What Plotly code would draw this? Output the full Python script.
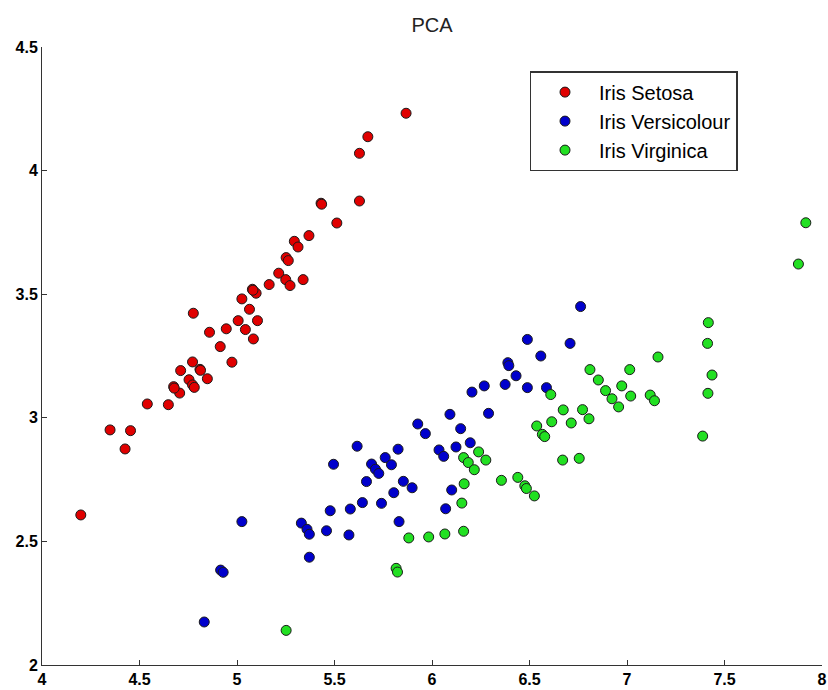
import plotly.graph_objects as go

# Iris Setosa
setosa_x = [5.867, 5.671, 5.628, 5.431, 5.434, 5.628, 5.512, 5.369, 5.294, 5.313,
            5.252, 5.263, 5.214, 5.250, 5.339, 5.272, 5.165, 5.079, 5.098, 5.025,
            5.064, 5.105, 5.006, 4.776, 4.859, 4.945, 5.043, 5.084, 4.914, 4.974,
            4.772, 4.711, 4.810, 4.754, 4.848, 4.772, 4.781, 4.675, 4.706, 4.540,
            4.648, 4.349, 4.454, 4.426, 4.199, 5.082, 4.813, 4.678]
setosa_y = [4.232, 4.137, 4.070, 3.868, 3.864, 3.877, 3.788, 3.737, 3.714, 3.691,
            3.648, 3.636, 3.585, 3.559, 3.559, 3.535, 3.539, 3.520, 3.504, 3.481,
            3.439, 3.393, 3.393, 3.423, 3.346, 3.360, 3.357, 3.319, 3.288, 3.225,
            3.226, 3.191, 3.196, 3.154, 3.158, 3.133, 3.123, 3.126, 3.100, 3.056,
            3.053, 2.951, 2.948, 2.874, 2.607, 3.516, 3.192, 3.120]

# Iris Versicolour
versi_x = [5.025, 4.916, 4.929, 4.832, 5.330, 5.359, 5.371, 5.371, 5.459, 5.478,
           5.495, 5.574, 5.581, 5.616, 5.643, 5.664, 5.690, 5.710, 5.727, 5.741,
           5.760, 5.792, 5.804, 5.826, 5.853, 5.831, 5.898, 5.927,
           6.762, 6.489, 6.708, 6.558, 6.389, 6.394, 6.431, 6.375, 6.489, 6.587,
           6.268, 6.205, 6.092, 6.290, 5.966, 6.147, 6.036, 6.060, 6.123, 6.196,
           6.101, 6.070]
versi_y = [2.580, 2.384, 2.375, 2.174, 2.574, 2.549, 2.529, 2.436, 2.543, 2.624,
           2.812, 2.526, 2.631, 2.885, 2.657, 2.742, 2.813, 2.792, 2.775, 2.654,
           2.839, 2.810, 2.697, 2.873, 2.743, 2.580, 2.717, 2.975,
           3.450, 3.317, 3.301, 3.250, 3.223, 3.211, 3.170, 3.135, 3.122, 3.122,
           3.129, 3.104, 3.014, 3.018, 2.936, 2.956, 2.870, 2.844, 2.882, 2.899,
           2.708, 2.632]

# Iris Virginica
virg_x = [5.252, 5.881, 5.816, 5.823, 7.917, 7.879,
          7.417, 7.413, 7.436, 7.415, 7.388, 7.159, 7.014, 6.810, 6.853, 6.973,
          6.890, 7.019, 6.923, 6.957, 7.119, 7.141, 6.609, 6.673, 6.772, 6.805,
          6.714, 6.614, 6.537, 6.566, 6.578, 6.670, 6.755, 6.162, 6.186, 6.217,
          6.239, 6.276, 6.356, 6.440, 6.476, 6.484, 6.525, 6.165, 6.153, 6.162,
          6.066, 5.983]
virg_y = [2.140, 2.514, 2.391, 2.376, 3.789, 3.622,
          3.385, 3.301, 3.173, 3.099, 2.926, 3.246, 3.195, 3.195, 3.153, 3.129,
          3.110, 3.088, 3.077, 3.044, 3.092, 3.069, 3.094, 3.032, 3.033, 2.996,
          2.979, 2.984, 2.967, 2.933, 2.924, 2.829, 2.836, 2.839, 2.819, 2.790,
          2.862, 2.829, 2.747, 2.759, 2.725, 2.714, 2.684, 2.733, 2.655, 2.541,
          2.530, 2.518]

names = ["Iris Setosa", "Iris Versicolour", "Iris Virginica"]
colors = ["#e00000", "#0000cc", "#22e022"]

fig = go.Figure()
for name, xs, ys, c in zip(names, [setosa_x, versi_x, virg_x],
                           [setosa_y, versi_y, virg_y], colors):
    fig.add_trace(go.Scatter(
        x=xs, y=ys, mode="markers", name=name,
        marker=dict(size=10, color=c, line=dict(color="#1a1a1a", width=1)),
    ))

axis_common = dict(
    showgrid=False, zeroline=False, showline=True, linecolor="#333333", linewidth=1,
    ticks="inside", ticklen=5, tickcolor="#333333", dtick=0.5,
    tickfont=dict(family="Liberation Sans", size=16, color="black", weight="bold"),
    mirror=False, ticklabeloverflow="allow", automargin=False,
)

fig.update_layout(
    width=828, height=690,
    margin=dict(l=42, r=6, t=47, b=25),
    paper_bgcolor="white", plot_bgcolor="white",
    title=dict(text="PCA", x=0.5, xref="paper", y=1 - 25 / 690, yanchor="middle",
               font=dict(family="Liberation Sans", size=20, color="#222222")),
    xaxis=dict(range=[4, 8], tick0=4, **axis_common),
    yaxis=dict(range=[2, 4.5], tick0=2, **axis_common),
    legend=dict(x=0.625, y=0.961, xanchor="left", yanchor="top",
                bordercolor="#333333", borderwidth=1.5, bgcolor="white",
                font=dict(family="Liberation Sans", size=20, color="black"),
                itemwidth=58),
    showlegend=True,
)

fig.write_html("out.html")
